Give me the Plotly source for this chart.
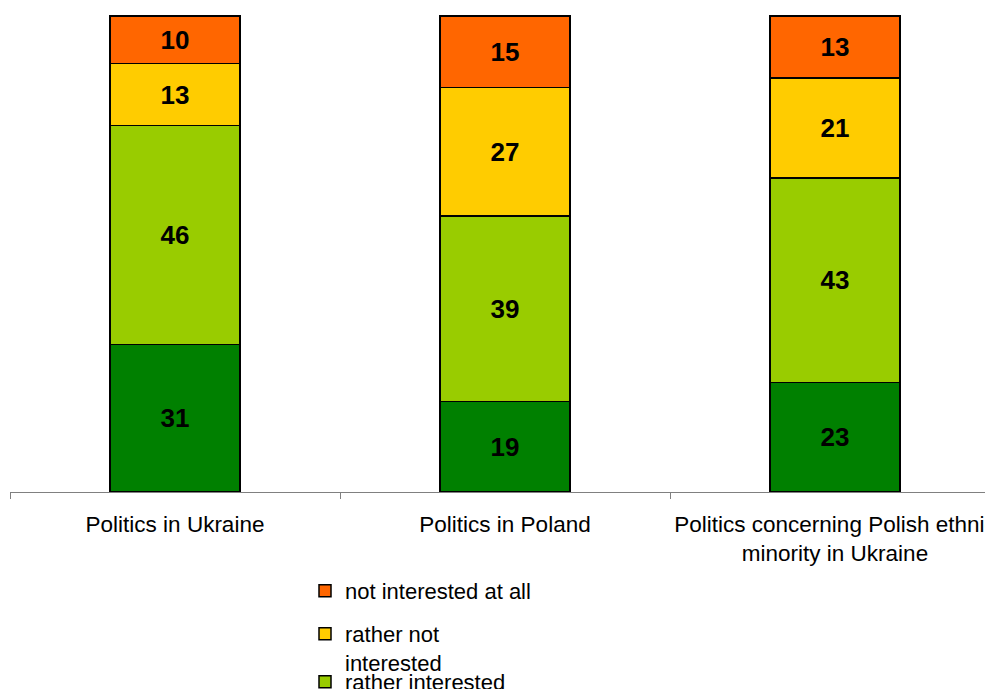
import plotly.graph_objects as go

categories = [
    "Politics in Ukraine",
    "Politics in Poland",
    "Politics concerning Polish ethnic<br>minority in Ukraine",
]
series_names = [
    "very interested",
    "rather interested",
    "rather not<br>interested",
    "not interested at all",
]
very_interested = [31, 19, 23]
rather_interested = [46, 39, 43]
rather_not_interested = [13, 27, 21]
not_interested_at_all = [10, 15, 13]

series_values = [very_interested, rather_interested, rather_not_interested, not_interested_at_all]
colors = ["#008000", "#99CC00", "#FFCC00", "#FF6600"]
legend_ids = ["legend4", "legend3", "legend2", "legend"]

FONT = "Arial, Liberation Sans, sans-serif"

fig = go.Figure()
for name, vals, col, lg in zip(series_names, series_values, colors, legend_ids):
    fig.add_trace(go.Bar(
        x=categories, y=vals, name=name, legend=lg, showlegend=True,
        marker=dict(color=col, line=dict(color="black", width=1.5)),
        width=0.394,
        text=vals, texttemplate="<b>%{text}</b>",
        textposition="inside", insidetextanchor="middle", constraintext="none",
        textfont=dict(family=FONT, size=26, color="black"),
        hoverinfo="skip",
    ))

# page body has an 8px margin; figure occupies page x 8..993, y 8..689
OFF = 8
FIG_W, FIG_H = 993 - OFF, 689 - OFF
AXIS_Y = 492 - OFF
TOP_Y = 14 - OFF
plot_h = AXIS_Y - TOP_Y


def ly(px_top):
    return -((px_top - OFF) - AXIS_Y) / plot_h


leg_common = dict(
    x=(305 - 10) / 983, xanchor="left", yanchor="top", bgcolor="rgba(0,0,0,0)",
    font=dict(family=FONT, size=22, color="black"), valign="top",
)
fig.update_layout(
    width=FIG_W, height=FIG_H,
    barmode="stack",
    showlegend=True,
    plot_bgcolor="white", paper_bgcolor="white",
    margin=dict(l=10 - OFF, r=0, t=TOP_Y, b=FIG_H - AXIS_Y, autoexpand=False),
    font=dict(family=FONT, size=22, color="black"),
    legend=dict(y=ly(570), **leg_common),
    legend2=dict(y=ly(613), **leg_common),
    legend3=dict(y=ly(661), **leg_common),
    legend4=dict(y=ly(707), **leg_common),
    xaxis=dict(
        type="category", range=[-0.5, -0.5 + 983 / 330],
        showline=True, linecolor="#808080", linewidth=1,
        ticks="outside", tickson="boundaries", ticklen=6, tickcolor="#808080",
        ticklabelstandoff=12,
        showgrid=False, zeroline=False,
        tickfont=dict(family=FONT, size=22.5, color="black"),
    ),
    yaxis=dict(range=[0, 100 * plot_h / 476], visible=False, showgrid=False),
)

fig.write_html("out.html")
